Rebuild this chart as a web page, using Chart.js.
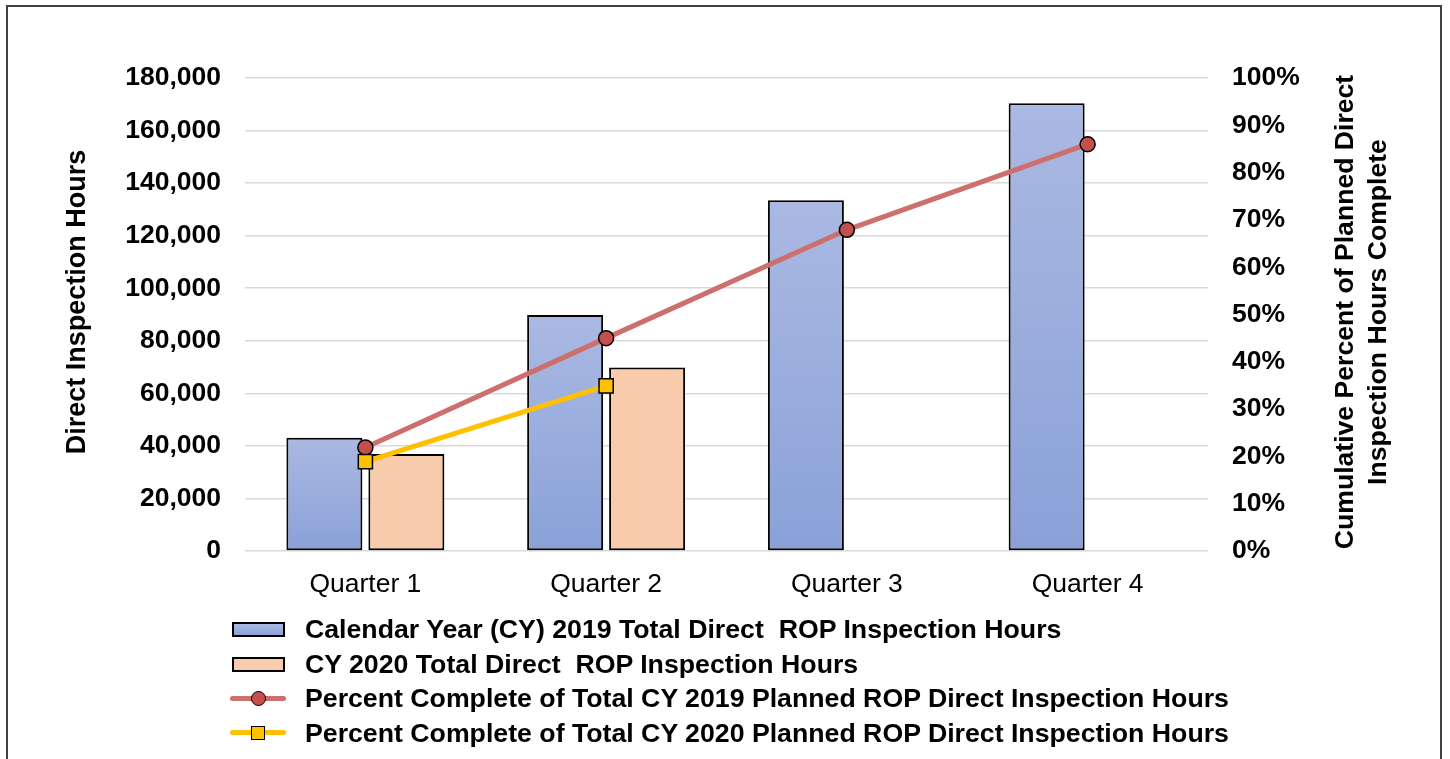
<!DOCTYPE html>
<html>
<head>
<meta charset="utf-8">
<script src="https://cdn.jsdelivr.net/npm/chart.js@4.4.1/dist/chart.umd.min.js"></script>
<style>
  html, body { margin: 0; padding: 0; background: #fff; }
  #wrap { position: relative; width: 1450px; height: 759px; overflow: hidden; font-family: 'Liberation Sans', Arial, sans-serif; }
  #frame { position: absolute; left: 6px; top: 5px; width: 1436px; height: 800px; border: 2px solid #404040; border-bottom: none; box-sizing: border-box; pointer-events: none; }
  #c { position: absolute; left: 0; top: 0; }
  .leg { position: absolute; left: 0; height: 34px; width: 1400px; }
  .leg .txt { position: absolute; left: 305px; top: 0; line-height: 34px; font-size: 26.7px; font-weight: bold; color: #000; white-space: pre; }
  .box { position: absolute; left: 232px; top: 10px; width: 53px; height: 15px; border: 2px solid #000; box-sizing: border-box; }
  .ln { position: absolute; left: 230px; top: 14.5px; width: 56px; height: 5px; border-radius: 2.5px; }
  .mk { position: absolute; box-sizing: border-box; border: 1.5px solid #000; }
</style>
</head>
<body>
<div id="wrap">
  <canvas id="c" width="1450" height="759"></canvas>
  <div id="frame"></div>
  <div id="legend"></div>
</div>
<script>
const categories = ['Quarter 1', 'Quarter 2', 'Quarter 3', 'Quarter 4'];
const hours2019 = [43100, 89800, 133500, 170400];
const hours2020 = [36900, 69800, null, null];
const pct2019 = [21.9, 45.0, 67.9, 86.0];
const pct2020 = [18.9, 34.9, null, null];
const leftTicks = [0, 20000, 40000, 60000, 80000, 100000, 120000, 140000, 160000, 180000];
const rightTicks = [0, 10, 20, 30, 40, 50, 60, 70, 80, 90, 100];
const seriesNames = [
  'Calendar Year (CY) 2019 Total Direct  ROP Inspection Hours',
  'CY 2020 Total Direct  ROP Inspection Hours',
  'Percent Complete of Total CY 2019 Planned ROP Direct Inspection Hours',
  'Percent Complete of Total CY 2020 Planned ROP Direct Inspection Hours'
];
const leftTitle = 'Direct Inspection Hours';
const rightTitle = ['Cumulative Percent of Planned Direct', 'Inspection Hours Complete'];

const FONT = "'Liberation Sans', Arial, sans-serif";
const BLUE_TOP = '#aab9e2', BLUE_BOT = '#8aa1d8';
const PEACH = '#f8cbad';
const RED_LINE = '#cd6f6d', RED_MK = '#c4504d';
const GOLD = '#ffc000';

function blueGradient(c) {
  const chart = c.chart;
  if (!chart.chartArea || c.type !== 'data' || c.raw == null) return '#9aaddc';
  const ys = chart.scales.y;
  const yTop = ys.getPixelForValue(c.raw), yBot = ys.getPixelForValue(0);
  const g = chart.ctx.createLinearGradient(0, yTop, 0, yBot);
  g.addColorStop(0, BLUE_TOP);
  g.addColorStop(1, BLUE_BOT);
  return g;
}

const titlesPlugin = {
  id: 'axisTitles',
  afterDraw(chart) {
    const ctx = chart.ctx;
    ctx.save();
    ctx.fillStyle = '#000';
    ctx.font = 'bold 27px ' + FONT;
    ctx.textAlign = 'center';
    ctx.textBaseline = 'middle';
    ctx.save();
    ctx.translate(78, 302);
    ctx.rotate(-Math.PI / 2);
    ctx.fillText(leftTitle, 0, 0);
    ctx.restore();
    ctx.font = 'bold 26.6px ' + FONT;
    const xs = [1346, 1379];
    rightTitle.forEach((t, i) => {
      ctx.save();
      ctx.translate(xs[i], 312);
      ctx.rotate(-Math.PI / 2);
      ctx.fillText(t, 0, 0);
      ctx.restore();
    });
    ctx.restore();
  }
};

new Chart(document.getElementById('c'), {
  data: {
    labels: categories,
    datasets: [
      { type: 'line', label: seriesNames[3], data: pct2020, yAxisID: 'y1',
        borderColor: GOLD, borderWidth: 5, backgroundColor: GOLD,
        pointStyle: 'rect', pointRadius: 10, pointBorderColor: '#000', pointBorderWidth: 1.5,
        pointBackgroundColor: GOLD, spanGaps: false, tension: 0 },
      { type: 'line', label: seriesNames[2], data: pct2019, yAxisID: 'y1',
        borderColor: RED_LINE, borderWidth: 5, backgroundColor: RED_MK,
        pointStyle: 'circle', pointRadius: 7.5, pointBorderColor: '#000', pointBorderWidth: 1.5,
        pointBackgroundColor: RED_MK, tension: 0 },
      { type: 'bar', label: seriesNames[0], data: hours2019, yAxisID: 'y',
        backgroundColor: blueGradient, borderColor: '#000', borderWidth: 2, borderSkipped: false,
        categoryPercentage: 0.681, barPercentage: 0.927 },
      { type: 'bar', label: seriesNames[1], data: hours2020, yAxisID: 'y',
        backgroundColor: PEACH, borderColor: '#000', borderWidth: 2, borderSkipped: false,
        categoryPercentage: 0.681, barPercentage: 0.927 }
    ]
  },
  options: {
    responsive: false,
    animation: false,
    layout: { padding: { top: 78, left: 0, right: 0, bottom: 0 } },
    plugins: { legend: { display: false }, tooltip: { enabled: false } },
    scales: {
      x: {
        grid: { display: false }, border: { display: false },
        ticks: { color: '#000', font: { family: FONT, size: 26.5 }, padding: 10 },
        afterFit(s) { s.height = 208; }
      },
      y: {
        position: 'left', min: 0, max: 180000,
        afterBuildTicks(s) { s.ticks = leftTicks.map(v => ({ value: v })); },
        grid: { color: '#d9d9d9', lineWidth: 1.5, drawTicks: false },
        border: { display: false },
        ticks: { color: '#000', font: { family: FONT, size: 26.5, weight: 'bold' }, padding: 24,
          callback: v => v.toLocaleString('en-US') },
        afterFit(s) { s.width = 245; }
      },
      y1: {
        position: 'right', min: 0, max: 100,
        afterBuildTicks(s) { s.ticks = rightTicks.map(v => ({ value: v })); },
        grid: { display: false, drawTicks: false },
        border: { display: false },
        ticks: { color: '#000', font: { family: FONT, size: 26.5, weight: 'bold' }, padding: 24,
          callback: v => v + '%' },
        afterFit(s) { s.width = 242; }
      }
    }
  },
  plugins: [titlesPlugin]
});

// HTML legend
const legend = document.getElementById('legend');
const rowTop = [612, 646.5, 681, 715.5];
seriesNames.forEach((name, i) => {
  const row = document.createElement('div');
  row.className = 'leg';
  row.style.top = rowTop[i] + 'px';
  if (i < 2) {
    const b = document.createElement('div');
    b.className = 'box';
    b.style.background = i === 0 ? 'linear-gradient(' + BLUE_TOP + ',' + BLUE_BOT + ')' : PEACH;
    row.appendChild(b);
  } else {
    const l = document.createElement('div');
    l.className = 'ln';
    l.style.background = i === 2 ? RED_LINE : GOLD;
    row.appendChild(l);
    const m = document.createElement('div');
    m.className = 'mk';
    if (i === 2) {
      m.style.cssText += 'left:250.5px;top:9.5px;width:15px;height:15px;border-radius:50%;background:' + RED_MK + ';';
    } else {
      m.style.cssText += 'left:251px;top:10px;width:14px;height:14px;background:' + GOLD + ';';
    }
    row.appendChild(m);
  }
  const t = document.createElement('div');
  t.className = 'txt';
  t.textContent = name;
  row.appendChild(t);
  legend.appendChild(row);
});
</script>
</body>
</html>
